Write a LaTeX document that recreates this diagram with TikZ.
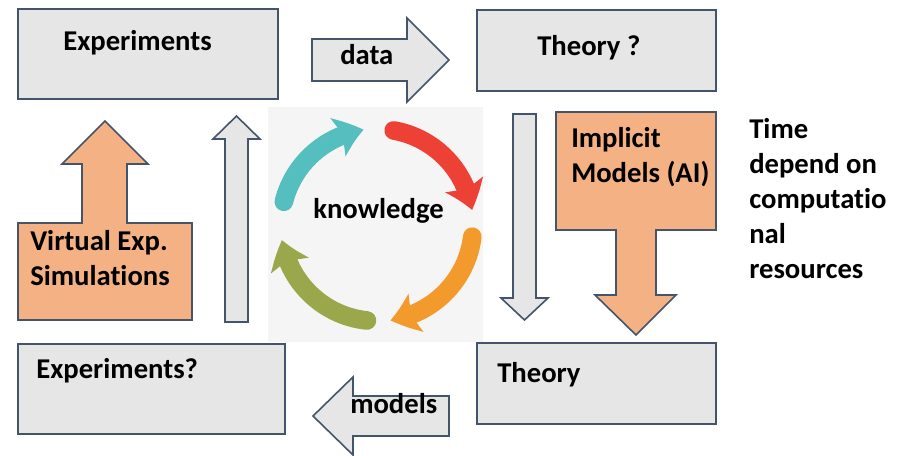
\documentclass[tikz,border=0pt]{standalone}
\usepackage{fontspec}
\setmainfont{Carlito}[Ligatures={NoCommon,NoContextual}]
\usepackage{xcolor}
\usetikzlibrary{arrows.meta,bending}
\definecolor{boxgray}{HTML}{E7E6E6}
\definecolor{boxline}{HTML}{44546A}
\definecolor{boxorange}{HTML}{F4B183}
\definecolor{bgknow}{HTML}{F5F5F5}
\definecolor{cycteal}{HTML}{55BEBE}
\definecolor{cycred}{HTML}{EE4136}
\definecolor{cycorange}{HTML}{F39A2C}
\definecolor{cycgreen}{HTML}{9AA84B}

\begin{document}
\begin{tikzpicture}[x=0.75pt, y=-0.75pt,
  graybox/.style={draw=boxline, fill=boxgray, line width=1.2pt, line join=miter},
  orangebox/.style={draw=boxline, fill=boxorange, line width=1.2pt, line join=miter},
  lbl/.style={font=\fontsize{21.5}{26.25}\selectfont\bfseries, inner sep=0pt, anchor=base west},
  mlbl/.style={font=\fontsize{21.5}{26.25}\selectfont\bfseries, inner sep=0pt, anchor=north west, align=left},
  cyc/.style={line width=14pt, line cap=round, -{Stealth[length=20pt, width=30pt, inset=4pt, bend]}}]

\useasboundingbox (0,0) rectangle (904,455);

% Boxes (top and bottom rows)
\draw[graybox] (18,9) rectangle (278,99);
\draw[graybox] (477,10) rectangle (716,91);
\draw[graybox] (18,344) rectangle (285,434);
\draw[graybox] (477,343) rectangle (716,424);

\node[lbl] (exp) at (63,50) {Experiments};
\node[lbl] (thq) at (537,55) {Theory ?};
\node[lbl] (expq) at (36,378) {Experiments?};
\node[lbl] (th) at (497,382) {Theory};

% Horizontal arrows: data and models
\draw[graybox] (312,39) -- (407,39) -- (407,18) -- (449,60) -- (407,102) -- (407,81) -- (312,81) -- cycle;
\draw[graybox] (449,396) -- (353,396) -- (353,377) -- (313,416) -- (353,455) -- (353,436) -- (449,436) -- cycle;
\node[lbl] (data) at (340,64) {data};
\node[lbl] (models) at (350,413) {models};

% Vertical gray arrows
\draw[graybox] (225,322) -- (248,322) -- (248,139) -- (260,139) -- (236.5,116) -- (213,139) -- (225,139) -- cycle;
\draw[graybox] (513,114) -- (536,114) -- (536,298) -- (548,298) -- (524.5,320) -- (501,298) -- (513,298) -- cycle;

% Orange callout arrows
\draw[orangebox] (18,320) -- (192,320) -- (192,223) -- (127,223) -- (127,164) -- (148,164) -- (105,121) -- (62,164) -- (82,164) -- (82,223) -- (18,223) -- cycle;
\draw[orangebox] (556,112) -- (716,112) -- (716,230) -- (656,230) -- (656,295) -- (676,295) -- (636,335) -- (595,295) -- (616,295) -- (616,230) -- (556,230) -- cycle;
\node[mlbl] (virt) at (30,230) {Virtual Exp.\\Simulations};
\node[mlbl] (impl) at (571,127) {Implicit\\Models (AI)};

% Side note
\node[mlbl] (note) at (749,118) {Time\\depend on\\computatio\\nal\\resources};

% Knowledge cycle
\fill[bgknow] (268,107) rectangle (483,342);
\coordinate (kc) at (377,225);
\draw[cyc, cycteal] ([shift={(-166:96)}]kc) arc[start angle=-166, end angle=-98, radius=96];
\draw[cyc, cycred] ([shift={(-80:96)}]kc) arc[start angle=-80, end angle=-9, radius=96];
\draw[cyc, cycorange] ([shift={(7:96)}]kc) arc[start angle=7, end angle=82, radius=96];
\draw[cyc, cycgreen] ([shift={(96:96)}]kc) arc[start angle=96, end angle=171, radius=96];
\node[lbl] (know) at (313,218) {knowledge};

\end{tikzpicture}
\end{document}
